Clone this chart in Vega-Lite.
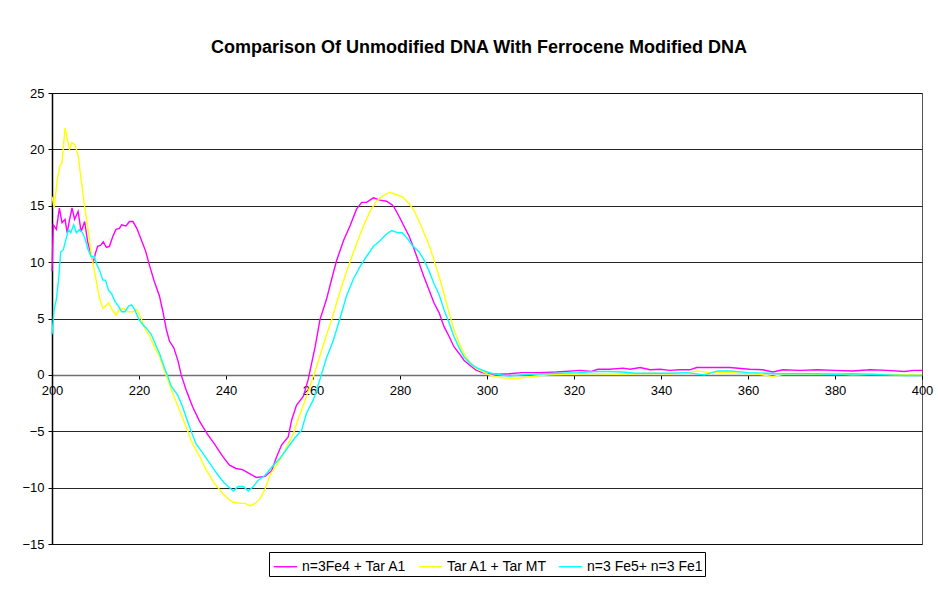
{
  "$schema": "https://vega.github.io/schema/vega-lite/v6.json",
  "width": 870,
  "height": 451,
  "autosize": "none",
  "padding": {"left": 52, "top": 93, "right": 16, "bottom": 48},
  "background": "white",
  "title": {"text": "Comparison Of Unmodified DNA With Ferrocene Modified DNA", "font": "Liberation Sans", "fontSize": 18, "fontWeight": "bold", "color": "black", "anchor": "middle", "baseline": "alphabetic", "offset": 16, "dx": -8},
  "data": {"values": [
    {"s":"a","x":200,"y":9.2},{"s":"a","x":200.3,"y":13.3},{"s":"a","x":201,"y":12.9},{"s":"a","x":201.7,"y":14.8},{"s":"a","x":202.3,"y":13.5},{"s":"a","x":203,"y":13.8},{"s":"a","x":203.5,"y":12.6},{"s":"a","x":204,"y":13.7},{"s":"a","x":204.6,"y":14.8},{"s":"a","x":205.2,"y":13.8},{"s":"a","x":206,"y":14.5},{"s":"a","x":206.7,"y":12.7},{"s":"a","x":207.5,"y":13.6},{"s":"a","x":208.2,"y":11.8},{"s":"a","x":209,"y":10.6},{"s":"a","x":209.5,"y":10.0},{"s":"a","x":210,"y":10.8},{"s":"a","x":210.5,"y":11.4},{"s":"a","x":211.2,"y":11.5},{"s":"a","x":211.8,"y":11.8},{"s":"a","x":212.5,"y":11.3},{"s":"a","x":213.2,"y":11.4},{"s":"a","x":214,"y":12.3},{"s":"a","x":214.7,"y":12.9},{"s":"a","x":215.5,"y":13.0},{"s":"a","x":216,"y":13.3},{"s":"a","x":217,"y":13.2},{"s":"a","x":217.8,"y":13.6},{"s":"a","x":218.6,"y":13.6},{"s":"a","x":219.5,"y":13.0},{"s":"a","x":220.5,"y":12.0},{"s":"a","x":221.5,"y":11.0},{"s":"a","x":222.5,"y":9.6},{"s":"a","x":223.5,"y":8.3},{"s":"a","x":224.7,"y":7.0},{"s":"a","x":225.5,"y":5.6},{"s":"a","x":226.3,"y":4.0},{"s":"a","x":227,"y":3.0},{"s":"a","x":228,"y":2.4},{"s":"a","x":229,"y":1.2},{"s":"a","x":229.7,"y":0},{"s":"a","x":230.8,"y":-1.3},{"s":"a","x":232.3,"y":-2.8},{"s":"a","x":233.9,"y":-4.1},{"s":"a","x":235.8,"y":-5.3},{"s":"a","x":237.3,"y":-6.1},{"s":"a","x":239.2,"y":-7.2},{"s":"a","x":240.8,"y":-8.0},{"s":"a","x":242.3,"y":-8.3},{"s":"a","x":243.8,"y":-8.4},{"s":"a","x":245.4,"y":-8.75},{"s":"a","x":247,"y":-9.1},{"s":"a","x":249,"y":-9.0},{"s":"a","x":250.5,"y":-8.5},{"s":"a","x":251.6,"y":-7.3},{"s":"a","x":252.8,"y":-6.2},{"s":"a","x":254.3,"y":-5.5},{"s":"a","x":255.1,"y":-4.0},{"s":"a","x":256.2,"y":-2.7},{"s":"a","x":257.8,"y":-1.9},{"s":"a","x":258.9,"y":-0.4},{"s":"a","x":260.5,"y":2.5},{"s":"a","x":261.6,"y":4.9},{"s":"a","x":263.1,"y":6.7},{"s":"a","x":264.3,"y":8.5},{"s":"a","x":265.4,"y":10.1},{"s":"a","x":267,"y":11.9},{"s":"a","x":268.5,"y":13.2},{"s":"a","x":270,"y":14.7},{"s":"a","x":271.2,"y":15.3},{"s":"a","x":272.3,"y":15.3},{"s":"a","x":273.9,"y":15.7},{"s":"a","x":275.4,"y":15.5},{"s":"a","x":276.9,"y":15.4},{"s":"a","x":278.1,"y":15.1},{"s":"a","x":278.6,"y":14.9},{"s":"a","x":279.8,"y":14.05},{"s":"a","x":280.9,"y":13.2},{"s":"a","x":282.1,"y":12.3},{"s":"a","x":283.2,"y":11.2},{"s":"a","x":284.4,"y":9.9},{"s":"a","x":285.5,"y":8.7},{"s":"a","x":286.7,"y":7.5},{"s":"a","x":287.8,"y":6.4},{"s":"a","x":289,"y":5.5},{"s":"a","x":290.1,"y":4.3},{"s":"a","x":291.3,"y":3.4},{"s":"a","x":292.4,"y":2.5},{"s":"a","x":293.6,"y":1.9},{"s":"a","x":294.7,"y":1.3},{"s":"a","x":295.9,"y":0.9},{"s":"a","x":297.4,"y":0.45},{"s":"a","x":298.9,"y":0.2},{"s":"a","x":300.5,"y":0.1},{"s":"a","x":302.8,"y":0.05},{"s":"a","x":305.1,"y":0.1},{"s":"a","x":308,"y":0.2},{"s":"a","x":312,"y":0.2},{"s":"a","x":316,"y":0.25},{"s":"a","x":321.4,"y":0.4},{"s":"a","x":324,"y":0.3},{"s":"a","x":325.5,"y":0.5},{"s":"a","x":328.2,"y":0.5},{"s":"a","x":331.3,"y":0.6},{"s":"a","x":332.9,"y":0.5},{"s":"a","x":335.2,"y":0.65},{"s":"a","x":337.5,"y":0.45},{"s":"a","x":339.8,"y":0.5},{"s":"a","x":342,"y":0.4},{"s":"a","x":344.3,"y":0.45},{"s":"a","x":346.6,"y":0.45},{"s":"a","x":348.2,"y":0.65},{"s":"a","x":351.2,"y":0.65},{"s":"a","x":355.8,"y":0.65},{"s":"a","x":360.4,"y":0.5},{"s":"a","x":363.4,"y":0.45},{"s":"a","x":365.7,"y":0.25},{"s":"a","x":368,"y":0.45},{"s":"a","x":372,"y":0.4},{"s":"a","x":376,"y":0.45},{"s":"a","x":380,"y":0.4},{"s":"a","x":384,"y":0.35},{"s":"a","x":388,"y":0.45},{"s":"a","x":392,"y":0.4},{"s":"a","x":396,"y":0.3},{"s":"a","x":398,"y":0.4},{"s":"a","x":400,"y":0.4},
    {"s":"b","x":200,"y":15.8},{"s":"b","x":200.5,"y":14.8},{"s":"b","x":201.2,"y":17.3},{"s":"b","x":201.8,"y":18.5},{"s":"b","x":202.3,"y":18.8},{"s":"b","x":203,"y":21.9},{"s":"b","x":203.5,"y":20.9},{"s":"b","x":204,"y":20.0},{"s":"b","x":204.6,"y":20.6},{"s":"b","x":205.3,"y":20.4},{"s":"b","x":206,"y":19.5},{"s":"b","x":206.7,"y":17.3},{"s":"b","x":207.5,"y":14.9},{"s":"b","x":208.2,"y":13.2},{"s":"b","x":209,"y":10.8},{"s":"b","x":209.7,"y":9.3},{"s":"b","x":210.3,"y":8.1},{"s":"b","x":211,"y":6.7},{"s":"b","x":211.7,"y":5.9},{"s":"b","x":212.3,"y":6.1},{"s":"b","x":213,"y":6.4},{"s":"b","x":213.8,"y":5.8},{"s":"b","x":214.7,"y":5.3},{"s":"b","x":215.5,"y":5.8},{"s":"b","x":216.5,"y":5.9},{"s":"b","x":217.5,"y":5.6},{"s":"b","x":218.5,"y":5.6},{"s":"b","x":219.5,"y":5.8},{"s":"b","x":220.5,"y":5.0},{"s":"b","x":221.5,"y":4.0},{"s":"b","x":222.5,"y":3.4},{"s":"b","x":223.5,"y":2.5},{"s":"b","x":224.5,"y":1.8},{"s":"b","x":225.4,"y":0.9},{"s":"b","x":226.2,"y":0},{"s":"b","x":227.7,"y":-1.6},{"s":"b","x":229.3,"y":-3.1},{"s":"b","x":230.8,"y":-4.6},{"s":"b","x":232.3,"y":-6.1},{"s":"b","x":233.9,"y":-7.2},{"s":"b","x":235.4,"y":-8.4},{"s":"b","x":237.3,"y":-9.6},{"s":"b","x":239.2,"y":-10.5},{"s":"b","x":240.5,"y":-11.0},{"s":"b","x":241.7,"y":-11.3},{"s":"b","x":243.2,"y":-11.4},{"s":"b","x":244.4,"y":-11.4},{"s":"b","x":245.5,"y":-11.6},{"s":"b","x":246.7,"y":-11.4},{"s":"b","x":247.8,"y":-11.0},{"s":"b","x":249,"y":-10.1},{"s":"b","x":250.1,"y":-8.9},{"s":"b","x":251.6,"y":-8.0},{"s":"b","x":253.2,"y":-7.0},{"s":"b","x":254.3,"y":-6.1},{"s":"b","x":255.5,"y":-5.2},{"s":"b","x":256.6,"y":-3.9},{"s":"b","x":257.8,"y":-2.7},{"s":"b","x":259.3,"y":-1.0},{"s":"b","x":260.8,"y":0.7},{"s":"b","x":262.4,"y":2.7},{"s":"b","x":264.3,"y":4.9},{"s":"b","x":266.2,"y":7.4},{"s":"b","x":268.1,"y":9.6},{"s":"b","x":270,"y":11.6},{"s":"b","x":271.6,"y":13.2},{"s":"b","x":273.1,"y":14.5},{"s":"b","x":274.6,"y":15.4},{"s":"b","x":276.1,"y":15.9},{"s":"b","x":277.7,"y":16.2},{"s":"b","x":279,"y":16.0},{"s":"b","x":280.5,"y":15.8},{"s":"b","x":282.1,"y":15.2},{"s":"b","x":283.2,"y":14.6},{"s":"b","x":284.4,"y":13.6},{"s":"b","x":285.5,"y":12.6},{"s":"b","x":286.7,"y":11.5},{"s":"b","x":287.8,"y":10.2},{"s":"b","x":289,"y":8.7},{"s":"b","x":290.1,"y":7.2},{"s":"b","x":291.3,"y":5.5},{"s":"b","x":292.4,"y":4.0},{"s":"b","x":293.6,"y":2.8},{"s":"b","x":294.7,"y":1.9},{"s":"b","x":295.9,"y":1.2},{"s":"b","x":297.4,"y":0.6},{"s":"b","x":298.9,"y":0.3},{"s":"b","x":300.5,"y":0},{"s":"b","x":302,"y":-0.15},{"s":"b","x":303.5,"y":-0.25},{"s":"b","x":305.8,"y":-0.3},{"s":"b","x":308.1,"y":-0.25},{"s":"b","x":311.2,"y":-0.1},{"s":"b","x":314.3,"y":0},{"s":"b","x":318,"y":0.05},{"s":"b","x":322,"y":0.1},{"s":"b","x":326,"y":0.1},{"s":"b","x":330,"y":0.05},{"s":"b","x":334,"y":0.1},{"s":"b","x":338,"y":0.15},{"s":"b","x":342,"y":0.1},{"s":"b","x":346,"y":0.2},{"s":"b","x":348.5,"y":0.35},{"s":"b","x":351,"y":0.2},{"s":"b","x":354,"y":0.25},{"s":"b","x":358,"y":0.15},{"s":"b","x":362,"y":0.1},{"s":"b","x":365.7,"y":-0.15},{"s":"b","x":368,"y":0.05},{"s":"b","x":372,"y":0.1},{"s":"b","x":376,"y":0.05},{"s":"b","x":380,"y":0.1},{"s":"b","x":384,"y":0.0},{"s":"b","x":388,"y":0.05},{"s":"b","x":392,"y":0.05},{"s":"b","x":396,"y":0.0},{"s":"b","x":400,"y":0.0},
    {"s":"c","x":200,"y":3.6},{"s":"c","x":200.5,"y":5.8},{"s":"c","x":201,"y":6.7},{"s":"c","x":201.5,"y":8.4},{"s":"c","x":202,"y":10.9},{"s":"c","x":202.6,"y":11.1},{"s":"c","x":203.2,"y":12.0},{"s":"c","x":203.8,"y":12.9},{"s":"c","x":204.3,"y":12.6},{"s":"c","x":205,"y":13.3},{"s":"c","x":205.6,"y":12.6},{"s":"c","x":206.3,"y":12.9},{"s":"c","x":207,"y":12.6},{"s":"c","x":207.6,"y":12.1},{"s":"c","x":208.3,"y":11.1},{"s":"c","x":209,"y":10.5},{"s":"c","x":209.7,"y":10.5},{"s":"c","x":210.3,"y":9.8},{"s":"c","x":211,"y":9.2},{"s":"c","x":211.7,"y":8.4},{"s":"c","x":212.3,"y":8.4},{"s":"c","x":213,"y":7.5},{"s":"c","x":213.7,"y":7.2},{"s":"c","x":214.5,"y":6.5},{"s":"c","x":215.3,"y":6.1},{"s":"c","x":216,"y":5.6},{"s":"c","x":216.8,"y":5.6},{"s":"c","x":217.6,"y":6.1},{"s":"c","x":218.3,"y":6.2},{"s":"c","x":219,"y":5.8},{"s":"c","x":220,"y":4.9},{"s":"c","x":221,"y":4.4},{"s":"c","x":221.8,"y":4.1},{"s":"c","x":222.8,"y":3.6},{"s":"c","x":223.8,"y":2.7},{"s":"c","x":224.8,"y":1.8},{"s":"c","x":225.8,"y":0.7},{"s":"c","x":226.5,"y":0},{"s":"c","x":227.4,"y":-1.0},{"s":"c","x":228.9,"y":-1.8},{"s":"c","x":230,"y":-2.8},{"s":"c","x":231.6,"y":-4.6},{"s":"c","x":233.1,"y":-6.1},{"s":"c","x":234.6,"y":-6.9},{"s":"c","x":236.2,"y":-7.8},{"s":"c","x":237.9,"y":-8.75},{"s":"c","x":239.4,"y":-9.5},{"s":"c","x":240.5,"y":-9.9},{"s":"c","x":241.7,"y":-10.3},{"s":"c","x":242.8,"y":-9.9},{"s":"c","x":244,"y":-9.9},{"s":"c","x":245.1,"y":-10.3},{"s":"c","x":246.3,"y":-9.9},{"s":"c","x":247.4,"y":-9.35},{"s":"c","x":249,"y":-8.9},{"s":"c","x":250.5,"y":-8.2},{"s":"c","x":252.4,"y":-7.4},{"s":"c","x":254.3,"y":-6.4},{"s":"c","x":255.8,"y":-5.6},{"s":"c","x":257.4,"y":-4.9},{"s":"c","x":258.5,"y":-3.4},{"s":"c","x":260.1,"y":-2.2},{"s":"c","x":261.6,"y":-0.4},{"s":"c","x":263.1,"y":1.5},{"s":"c","x":264.7,"y":3.1},{"s":"c","x":266.2,"y":5.0},{"s":"c","x":267.7,"y":7.0},{"s":"c","x":269.3,"y":8.5},{"s":"c","x":270.8,"y":9.6},{"s":"c","x":272.3,"y":10.5},{"s":"c","x":273.9,"y":11.4},{"s":"c","x":275.4,"y":11.9},{"s":"c","x":276.9,"y":12.5},{"s":"c","x":278.1,"y":12.8},{"s":"c","x":279.6,"y":12.6},{"s":"c","x":280.5,"y":12.6},{"s":"c","x":281.7,"y":12.1},{"s":"c","x":282.8,"y":11.5},{"s":"c","x":284.4,"y":10.9},{"s":"c","x":285.5,"y":10.2},{"s":"c","x":286.7,"y":9.2},{"s":"c","x":287.8,"y":8.1},{"s":"c","x":289,"y":7.1},{"s":"c","x":290.1,"y":5.8},{"s":"c","x":291.3,"y":4.6},{"s":"c","x":292.4,"y":3.4},{"s":"c","x":293.6,"y":2.4},{"s":"c","x":294.7,"y":1.6},{"s":"c","x":296.2,"y":1.0},{"s":"c","x":297.8,"y":0.6},{"s":"c","x":299.7,"y":0.3},{"s":"c","x":302,"y":0.05},{"s":"c","x":305.1,"y":-0.1},{"s":"c","x":308.1,"y":0},{"s":"c","x":312.7,"y":0.1},{"s":"c","x":317,"y":0.15},{"s":"c","x":321,"y":0.2},{"s":"c","x":325,"y":0.3},{"s":"c","x":328,"y":0.3},{"s":"c","x":331,"y":0.25},{"s":"c","x":334,"y":0.15},{"s":"c","x":338,"y":0.15},{"s":"c","x":342,"y":0.15},{"s":"c","x":346,"y":0.2},{"s":"c","x":350,"y":0.0},{"s":"c","x":353,"y":0.35},{"s":"c","x":356,"y":0.35},{"s":"c","x":360,"y":0.2},{"s":"c","x":364,"y":0.15},{"s":"c","x":368,"y":0.1},{"s":"c","x":372,"y":0.1},{"s":"c","x":376,"y":0.1},{"s":"c","x":380,"y":0.05},{"s":"c","x":384,"y":0.1},{"s":"c","x":388,"y":0.05},{"s":"c","x":392,"y":0.0},{"s":"c","x":396,"y":-0.05},{"s":"c","x":400,"y":-0.05}
  ]},
  "mark": {"type": "line", "strokeWidth": 1.4},
  "encoding": {
    "x": {"field": "x", "type": "quantitative",
      "scale": {"domain": [200, 400], "nice": false, "zero": false},
      "axis": {"values": [200, 220, 240, 260, 280, 300, 320, 340, 360, 380, 400], "title": null, "offset": -169, "grid": false, "domainColor": "#707070", "domainWidth": 1.5, "tickColor": "black", "tickSize": 4, "labelFont": "Liberation Sans", "labelFontSize": 13, "labelColor": "black", "labelPadding": 5, "labelFlush": false, "labelOverlap": false}},
    "y": {"field": "y", "type": "quantitative",
      "scale": {"domain": [-15, 25], "nice": false, "zero": false},
      "axis": {"values": [-15, -10, -5, 0, 5, 10, 15, 20, 25], "title": null, "grid": true, "gridColor": "black", "gridOpacity": 0.85, "domainColor": "black", "domainWidth": 1.5, "tickColor": "black", "tickSize": 4, "labelFont": "Liberation Sans", "labelFontSize": 13, "labelColor": "black", "labelPadding": 4, "labelOverlap": false}},
    "color": {"field": "s", "type": "nominal",
      "scale": {"domain": ["a", "b", "c"], "range": ["#FF00FF", "#FFFF00", "#00FFFF"]},
      "legend": {"title": null, "orient": "none", "legendX": 217, "legendY": 459, "direction": "horizontal", "strokeColor": "black", "fillColor": "white", "padding": 2, "symbolType": "stroke", "symbolStrokeWidth": 1.4, "symbolSize": 550, "labelFont": "Liberation Sans", "labelFontSize": 14, "labelColor": "black", "labelLimit": 300, "columnPadding": 8, "symbolOffset": 2,
        "labelExpr": "datum.label == 'a' ? 'n=3Fe4 + Tar A1' : datum.label == 'b' ? 'Tar A1 + Tar MT' : 'n=3 Fe5+ n=3 Fe1'"}}
  },
  "config": {"view": {"stroke": "#555", "strokeWidth": 1}}
}
